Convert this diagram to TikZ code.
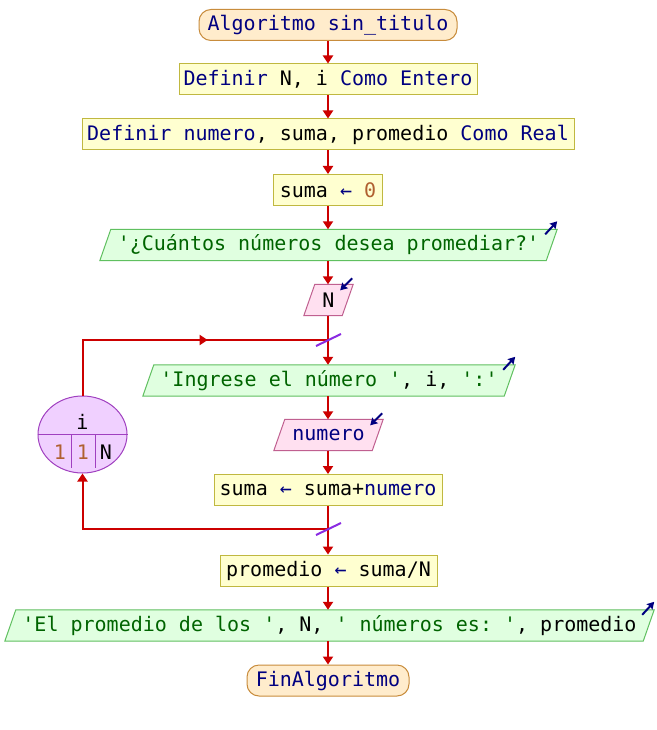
\documentclass[tikz,border=0pt]{standalone}
\usepackage{fontspec}
\setmonofont{DejaVu Sans Mono}
\usetikzlibrary{backgrounds,arrows.meta,decorations.markings,shapes.geometric}
\definecolor{kw}{RGB}{0,0,128}
\definecolor{str}{RGB}{0,100,0}
\definecolor{num}{RGB}{176,96,48}
\definecolor{flow}{RGB}{204,0,0}
\definecolor{termfill}{RGB}{255,236,204}
\definecolor{termdraw}{RGB}{200,140,60}
\definecolor{procfill}{RGB}{255,255,208}
\definecolor{procdraw}{RGB}{192,184,64}
\definecolor{outfill}{RGB}{224,255,224}
\definecolor{outdraw}{RGB}{96,192,96}
\definecolor{infill}{RGB}{255,224,240}
\definecolor{indraw}{RGB}{192,96,144}
\definecolor{loopfill}{RGB}{240,208,255}
\definecolor{loopdraw}{RGB}{160,64,192}
\definecolor{slashcol}{RGB}{138,43,226}
\newcommand\iopath[3]{\draw[draw=#2,fill=#3,line width=1pt] (#1.south west) -- ([xshift=11pt]#1.north west) -- (#1.north east) -- ([xshift=-11pt]#1.south east) -- cycle;}
\tikzset{
  term/.style={draw=termdraw, fill=termfill, rounded corners=12pt, line width=1pt, minimum height=31, inner sep=0pt},
  proc/.style={draw=procdraw, fill=procfill, line width=1pt, minimum height=31, inner sep=0pt},
  iobox/.style={minimum height=31, inner sep=0pt},
  flowline/.style={draw=flow, line width=2pt},
  flowarrow/.style={flowline, -{Triangle[length=8pt,width=10pt]}},
  outicon/.style={draw=kw, line width=2pt, -{Stealth[length=7pt,width=8pt,inset=1pt]}},
  slashline/.style={draw=slashcol, line width=2pt},
  loopnode/.style={ellipse, draw=loopdraw, fill=loopfill, line width=1pt, minimum width=89, minimum height=77, inner sep=0pt},
}
\begin{document}
\begin{tikzpicture}[x=1pt,y=-1pt,font=\fontsize{20}{24}\selectfont\ttfamily]
\useasboundingbox (0,0) rectangle (656,730);

\node[term, minimum width=258] (start) at (328,25) {\textcolor{kw}{Algoritmo sin\_titulo}};
\node[proc, minimum width=298] (def1) at (328,79.5) {\textcolor{kw}{Definir} N, i \textcolor{kw}{Como Entero}};
\node[proc, minimum width=492] (def2) at (328,134.5) {\textcolor{kw}{Definir numero}, suma, promedio \textcolor{kw}{Como Real}};
\node[proc, minimum width=109] (s0) at (328,190) {suma \textcolor{kw}{←} \textcolor{num}{0}};
\node[iobox, minimum width=457] (out1) at (328.5,245) {\textcolor{str}{'¿Cuántos números desea promediar?'}};
\node[iobox, minimum width=49] (readN) at (328.5,300) {N};
\node[iobox, minimum width=372] (out2) at (329,380.5) {\textcolor{str}{'Ingrese el número '}, i, \textcolor{str}{':'}};
\node[iobox, minimum width=109] (readnum) at (328.5,435) {\textcolor{kw}{numero}};
\node[proc, minimum width=228] (assign) at (328,490) {suma \textcolor{kw}{←} suma+\textcolor{kw}{numero}};
\node[proc, minimum width=217] (prom) at (328.5,570.5) {promedio \textcolor{kw}{←} suma/N};
\node[iobox, minimum width=649] (out3) at (329.5,625.5) {\textcolor{str}{'El promedio de los '}, N, \textcolor{str}{' números es: '}, promedio};
\node[term, minimum width=162] (fin) at (328,680.5) {\textcolor{kw}{FinAlgoritmo}};

\begin{scope}[on background layer]
\path[fill=white] (0,0) rectangle (656,730);
\iopath{out1}{outdraw}{outfill}
\iopath{readN}{indraw}{infill}
\iopath{out2}{outdraw}{outfill}
\iopath{readnum}{indraw}{infill}
\iopath{out3}{outdraw}{outfill}
\end{scope}

% loop node
\node[loopnode] (loop) at (82.5,434.5) {};
\draw[draw=loopdraw, line width=1pt] (loop.west) -- (loop.east);
\draw[draw=loopdraw, line width=1pt] ([xshift=-11.5pt]loop.center) -- ++(0,33);
\draw[draw=loopdraw, line width=1pt] ([xshift=12.5pt]loop.center) -- ++(0,33);
\node (lvar) at (82.5,422) {i};
\node (lstart) at (60,452) {\textcolor{num}{1}};
\node (lstep) at (83,452) {\textcolor{num}{1}};
\node (lend) at (106,452) {N};

\coordinate (ltop) at (328,340);
\coordinate (lbot) at (328,529);

% main flow
\draw[flowarrow] (start.south) -- (def1.north);
\draw[flowarrow] (def1.south) -- (def2.north);
\draw[flowarrow] (def2.south) -- (s0.north);
\draw[flowarrow] (s0.south) -- (out1.north -| s0.south);
\draw[flowarrow] (out1.south -| s0.south) -- (readN.north -| s0.south);
\draw[flowarrow] (readN.south -| s0.south) -- (out2.north -| s0.south);
\draw[flowarrow] (out2.south -| s0.south) -- (readnum.north -| s0.south);
\draw[flowarrow] (readnum.south -| s0.south) -- (assign.north);
\draw[flowarrow] (assign.south) -- (prom.north -| assign.south);
\draw[flowarrow] (prom.south -| assign.south) -- (out3.north -| assign.south);
\draw[flowarrow] (out3.south -| assign.south) -- (fin.north);

% loop connectors
\draw[flowline, postaction={decorate}, decoration={markings, mark=at position 0.6 with {\arrow{Triangle[length=8pt,width=10pt]}}}] (loop.north) |- (ltop);
\draw[flowarrow] (lbot) -| (loop.south);
\draw[slashline] ([shift={(-12,6)}]ltop) -- ([shift={(13,-6)}]ltop);
\draw[slashline] ([shift={(-12,6)}]lbot) -- ([shift={(13,-6)}]lbot);

% io icons
\draw[outicon] ([shift={(-12,5)}]out1.north east) -- ([shift={(0,-8)}]out1.north east);
\draw[outicon] ([shift={(-12,5)}]out2.north east) -- ([shift={(0,-8)}]out2.north east);
\draw[outicon] ([shift={(-12,5)}]out3.north east) -- ([shift={(0,-8)}]out3.north east);
\draw[outicon] ([shift={(-1,-6)}]readN.north east) -- ([shift={(-13,6)}]readN.north east);
\draw[outicon] ([shift={(-1,-6)}]readnum.north east) -- ([shift={(-13,6)}]readnum.north east);
\end{tikzpicture}
\end{document}
